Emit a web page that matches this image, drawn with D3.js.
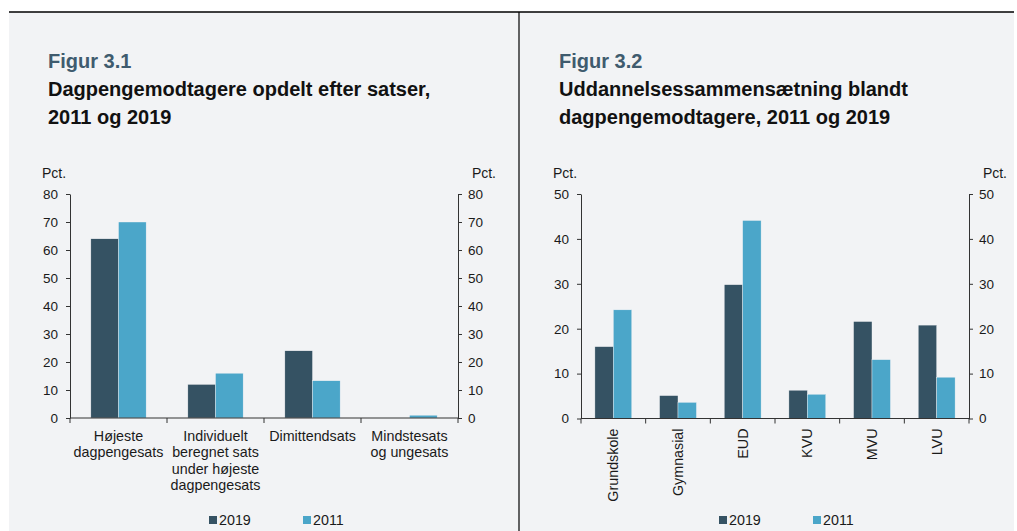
<!DOCTYPE html>
<html>
<head>
<meta charset="UTF-8">
<title>Figur 3.1 og 3.2</title>
<script src="https://d3js.org/d3.v7.min.js"></script>
<style>
  body { margin: 0; background: #fff; }
  svg { display: block; font-family: "Liberation Sans", Arial, sans-serif; }
  .axis text { font-size: 13.5px; fill: #1a1a1a; }
  .axis path, .axis line { stroke: #333; }
</style>
</head>
<body>
<svg id="chart" width="1017" height="531"></svg>
<script>
// Figur 3.1
var satsCategories = [["Højeste", "dagpengesats"], ["Individuelt", "beregnet sats", "under højeste", "dagpengesats"], ["Dimittendsats"], ["Mindstesats", "og ungesats"]];
var sats2019 = [64, 12, 24, 0];
var sats2011 = [70, 16, 13.3, 1];
var satsTicks = [0, 10, 20, 30, 40, 50, 60, 70, 80];

// Figur 3.2
var uddCategories = ["Grundskole", "Gymnasial", "EUD", "KVU", "MVU", "LVU"];
var udd2019 = [16, 5.1, 29.8, 6.3, 21.6, 20.8];
var udd2011 = [24.2, 3.6, 44.1, 5.4, 13.1, 9.2];
var uddTicks = [0, 10, 20, 30, 40, 50];

var seriesNames = ["2019", "2011"];
var colors = d3.scaleOrdinal().domain(seriesNames).range(["#355263", "#4ba6c9"]);

var svg = d3.select("#chart");

// panel background and frame
svg.append("rect").attr("x", 9).attr("y", 12).attr("width", 1005).attr("height", 519).attr("fill", "#f2f3f5");
svg.append("line").attr("x1", 9).attr("x2", 1014).attr("y1", 12).attr("y2", 12).attr("stroke", "#000").attr("stroke-width", 1.5);
svg.append("line").attr("x1", 519).attr("x2", 519).attr("y1", 12).attr("y2", 531).attr("stroke", "#000").attr("stroke-width", 1.2);

function drawPanel(opt) {
  var g = svg.append("g");

  g.append("text").attr("x", opt.titleX).attr("y", 68)
    .attr("font-size", "20px").attr("font-weight", "bold").attr("fill", "#3f5b6e")
    .text(opt.figur);
  opt.title.forEach(function(t, i) {
    g.append("text").attr("x", opt.titleX).attr("y", 96 + i * 28)
      .attr("font-size", "20px").attr("font-weight", "bold").attr("fill", "#111")
      .text(t);
  });

  var x = d3.scaleBand().domain(d3.range(opt.values[0].length)).range([opt.left, opt.right]).padding(0);
  var y = d3.scaleLinear().domain([0, d3.max(opt.ticks)]).range([opt.bottom, opt.top]);
  var groupW = x.bandwidth() * 0.57;
  var xs = d3.scaleBand().domain(seriesNames).range([0, groupW]);

  // Pct. labels
  g.append("text").attr("x", opt.left - 28).attr("y", 178).attr("font-size", "14px").attr("fill", "#1a1a1a").text("Pct.");
  g.append("text").attr("x", opt.right + 38).attr("y", 178).attr("text-anchor", "end").attr("font-size", "14px").attr("fill", "#1a1a1a").text("Pct.");

  g.append("g").attr("class", "axis").attr("transform", "translate(" + opt.left + ",0)")
    .call(d3.axisLeft(y).tickValues(opt.ticks).tickSize(4).tickSizeOuter(0).tickPadding(8));
  g.append("g").attr("class", "axis").attr("transform", "translate(" + opt.right + ",0)")
    .call(d3.axisRight(y).tickValues(opt.ticks).tickSize(4).tickSizeOuter(0).tickPadding(6));

  // bars
  seriesNames.forEach(function(s, si) {
    g.selectAll(null).data(opt.values[si]).enter().append("rect")
      .attr("x", function(d, i) { return x(i) + (x.bandwidth() - groupW) / 2 + xs(s); })
      .attr("width", xs.bandwidth())
      .attr("y", function(d) { return y(d); })
      .attr("height", function(d) { return y(0) - y(d); })
      .attr("fill", colors(s))
      .attr("stroke", "#f2f3f5").attr("stroke-width", 0.4);
  });

  // x baseline + boundary ticks
  g.append("line").attr("x1", opt.left).attr("x2", opt.right).attr("y1", y(0)).attr("y2", y(0)).attr("stroke", "#333");
  var edges = x.domain().map(function(d) { return x(d); }).concat([opt.right]);
  g.selectAll(null).data(edges).enter().append("line")
    .attr("x1", function(d) { return d; }).attr("x2", function(d) { return d; })
    .attr("y1", y(0)).attr("y2", y(0) + 5).attr("stroke", "#333");

  // category labels
  opt.labels(g, x, y);

  // legend
  seriesNames.forEach(function(s, i) {
    var lx = opt.legendX + i * 94;
    g.append("rect").attr("x", lx).attr("y", 516).attr("width", 8).attr("height", 8).attr("fill", colors(s));
    g.append("text").attr("x", lx + 10).attr("y", 525).attr("font-size", "14.3px").attr("fill", "#1a1a1a").text(s);
  });
}

drawPanel({
  figur: "Figur 3.1",
  title: ["Dagpengemodtagere opdelt efter satser,", "2011 og 2019"],
  titleX: 48,
  left: 70, right: 458, top: 194, bottom: 418,
  ticks: satsTicks,
  values: [sats2019, sats2011],
  legendX: 209,
  labels: function(g, x, y) {
    satsCategories.forEach(function(lines, i) {
      var t = g.append("text").attr("text-anchor", "middle").attr("font-size", "14.3px").attr("fill", "#1a1a1a");
      lines.forEach(function(l, j) {
        t.append("tspan").attr("x", x(i) + x.bandwidth() / 2).attr("y", y(0) + 23 + j * 16.3).text(l);
      });
    });
  }
});

drawPanel({
  figur: "Figur 3.2",
  title: ["Uddannelsessammensætning blandt", "dagpengemodtagere, 2011 og 2019"],
  titleX: 559,
  left: 581, right: 969, top: 194, bottom: 418.5,
  ticks: uddTicks,
  values: [udd2019, udd2011],
  legendX: 719,
  labels: function(g, x, y) {
    uddCategories.forEach(function(c, i) {
      var cx = x(i) + x.bandwidth() / 2 + 5;
      g.append("text").attr("text-anchor", "end").attr("font-size", "14.3px").attr("fill", "#1a1a1a")
        .attr("transform", "translate(" + cx + "," + (y(0) + 10) + ") rotate(-90)")
        .text(c);
    });
  }
});
</script>
</body>
</html>
